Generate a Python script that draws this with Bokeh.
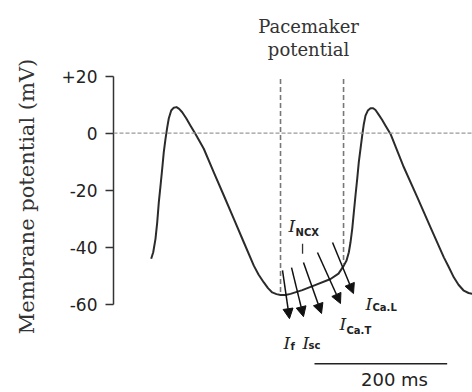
from bokeh.plotting import figure
from bokeh.models import Range1d, Span, Arrow, NormalHead, FixedTicker, ColumnDataSource
from bokeh.core.properties import value
from bokeh.embed import file_html
from bokeh.resources import INLINE

# ---- data ----
time_ms = [56.8, 59.9, 63.3, 65.9, 68.3, 70.9, 73.4, 75.8, 78.4, 81.0, 83.4, 87.0,
           90.9, 95.0, 99.0, 103.6, 109.6, 116.1, 123.6, 136.1, 151.2, 166.3, 181.4,
           196.4, 211.5, 218.6, 226.6, 232.9, 239.3, 245.7, 251.8, 259.3, 266.9,
           284.6, 302.0, 327.2, 339.2, 347.2, 351.3, 354.8, 357.3, 359.9, 362.3,
           364.8, 367.4, 369.8, 372.4, 374.9, 377.4, 379.9, 383.4, 387.5, 391.5,
           395.0, 400.0, 405.1, 410.1, 417.6, 437.7, 457.9, 477.9, 498.0, 505.0,
           513.0, 520.1, 528.1, 535.2, 541.2]
voltage_mv = [-44.1, -41.8, -37.1, -31.3, -24.3, -18.4, -12.6, -6.7, -2.0, 2.0, 5.2, 7.9,
              8.9, 9.1, 8.5, 7.3, 5.2, 2.6, -0.3, -5.5, -13.8, -21.9, -30.1,
              -38.3, -46.5, -49.6, -52.4, -54.4, -55.9, -56.5, -56.8, -56.8, -56.4,
              -55.1, -53.5, -51.2, -49.3, -46.5, -44.7, -41.8, -38.3, -33.6, -27.8,
              -21.9, -16.1, -10.2, -5.5, -0.9, 3.2, 6.1, 7.9, 8.7, 8.7,
              8.1, 6.4, 4.6, 2.6, -0.3, -12.0, -22.5, -33.1, -43.6, -46.8,
              -50.6, -53.2, -55.3, -56.1, -56.4]

y_ticks = [-60, -40, -20, 0, 20]
y_tick_labels = ["-60", "-40", "-20", "0", "+20"]

pacemaker_x = [251.8, 346.8]
pacemaker_top = [19.0, 19.0]
pacemaker_bottom = [-56.3, -45.8]

arrow_x0 = [254.8, 268.4, 286.4, 307.5, 330.2]
arrow_y0 = [-48.2, -47.2, -45.4, -41.9, -38.4]
arrow_x1 = [265.3, 286.4, 313.6, 342.2, 361.8]
arrow_y1 = [-65.1, -64.4, -63.3, -59.8, -56.3]

current_main_x = [263.8, 379.9, 340.7, 256.3, 285.0]
current_main_y = [-32.5, -59.8, -66.8, -73.5, -73.5]
current_sub = ["NCX", "Ca.L", "Ca.T", "f", "sc"]
current_sub_x = [274.4, 390.5, 351.3, 266.8, 294.0]
current_sub_y = [-34.9, -61.2, -69.3, -74.9, -74.5]

scale_bar_x = [303.0, 503.0]
scale_bar_y = -80.9
scale_label = "200 ms"

# ---- figure ----
p = figure(width=472, height=392, output_backend="svg", toolbar_location=None,
           x_range=Range1d(0, 541.2), y_range=Range1d(-91.0, 46.5),
           x_axis_location=None,
           min_border_left=113, min_border_right=0, min_border_top=0, min_border_bottom=0)
p.outline_line_color = None
p.grid.visible = False
p.background_fill_color = "white"

ax = p.yaxis[0]
ax.ticker = FixedTicker(ticks=y_ticks)
ax.major_label_overrides = {t: l for t, l in zip(y_ticks, y_tick_labels)}
ax.bounds = (-60, 20)
ax.minor_tick_line_color = None
ax.major_tick_in = 0
ax.major_tick_out = 8
ax.axis_line_color = "#333333"
ax.axis_line_width = 1.5
ax.major_tick_line_color = "#333333"
ax.major_tick_line_width = 1.5
ax.major_label_text_font = "DejaVu Sans"
ax.major_label_text_font_size = "17px"
ax.major_label_text_color = "#222222"
ax.major_label_standoff = 8
ax.axis_label = "Membrane potential (mV)"
ax.axis_label_text_font = "DejaVu Serif"
ax.axis_label_text_font_style = "normal"
ax.axis_label_text_font_size = "21px"
ax.axis_label_text_color = "#333333"
ax.axis_label_standoff = 20

# zero reference line
p.add_layout(Span(location=0, dimension="width", line_color="#999999",
                  line_width=1.2, line_dash="4 2"))

# pacemaker boundaries
p.segment(x0=pacemaker_x, y0=pacemaker_top, x1=pacemaker_x, y1=pacemaker_bottom,
          line_color="#777777", line_width=1.6, line_dash="5 3")

# action potential trace
p.line(time_ms, voltage_mv, line_color="#2b2b2b", line_width=2, line_join="round")

# current arrows
for xa, ya, xb, yb in zip(arrow_x0, arrow_y0, arrow_x1, arrow_y1):
    p.add_layout(Arrow(x_start=xa, y_start=ya, x_end=xb, y_end=yb,
                       line_color="#111111", line_width=1.5,
                       end=NormalHead(size=10, fill_color="#111111", line_color="#111111")))
# small tick under I_NCX
p.segment(x0=[285.0], y0=[-38.8], x1=[285.0], y1=[-42.3], line_color="#333333", line_width=1.3)

# current labels
p.text(x=current_main_x, y=current_main_y, text=["I"] * len(current_main_x),
       text_font=value("DejaVu Serif"), text_font_style="italic", text_font_size="17px",
       text_color="#222222", text_baseline="alphabetic", text_align="left")
src = ColumnDataSource(dict(x=current_sub_x, y=current_sub_y, t=current_sub))
p.text(x="x", y="y", text="t", source=src,
       text_font=value("DejaVu Sans"), text_font_size="10px", text_font_style="bold",
       text_color="#222222", text_baseline="alphabetic", text_align="left")

# pacemaker title
p.text(x=[294, 294], y=[37.4, 29.3], text=["Pacemaker", "potential"],
       text_font=value("DejaVu Serif"), text_font_size="18px", text_color="#333333",
       text_align="center", text_baseline="middle")

# scale bar
p.line(scale_bar_x, [scale_bar_y, scale_bar_y], line_color="#222222", line_width=1.6)
p.text(x=[423.6], y=[-86.6], text=[scale_label], text_font=value("DejaVu Sans"),
       text_font_size="18px", text_color="#222222", text_align="center",
       text_baseline="middle")

open("out.html", "w").write(file_html(p, INLINE))
